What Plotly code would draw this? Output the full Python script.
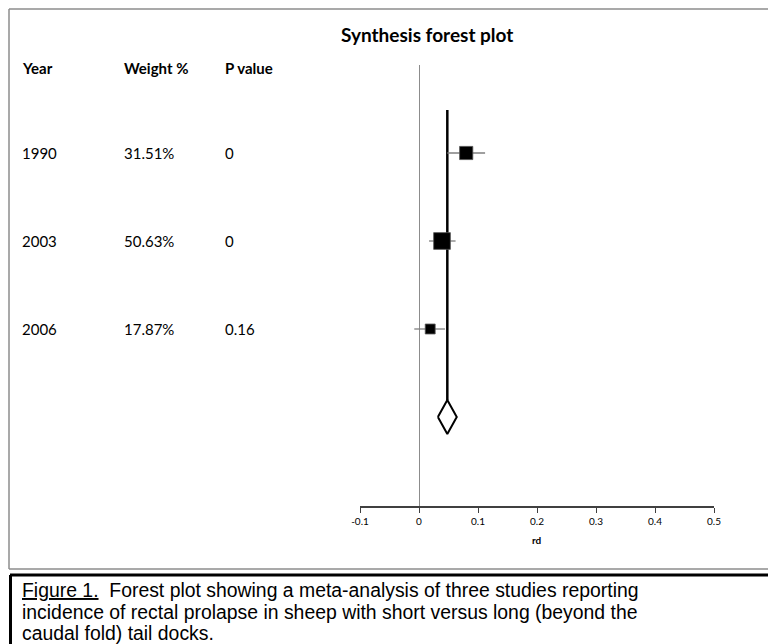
import plotly.graph_objects as go
import math

# ---------------- data ----------------
years = ["1990", "2003", "2006"]
weight_labels = ["31.51%", "50.63%", "17.87%"]
weight_values = [31.51, 50.63, 17.87]
p_values = ["0", "0", "0.16"]
rd = [0.080, 0.039, 0.019]
ci_low = [0.048, 0.017, -0.008]
ci_high = [0.112, 0.062, 0.044]
pooled = 0.048
pooled_low = 0.032
pooled_high = 0.064
x_ticks = [-0.1, 0, 0.1, 0.2, 0.3, 0.4, 0.5]
x_tick_labels = ["-0.1", "0", "0.1", "0.2", "0.3", "0.4", "0.5"]
caption_lines = [
    "<u>Figure 1.</u>  Forest plot showing a meta-analysis of three studies reporting",
    "incidence of rectal prolapse in sheep with short versus long (beyond the",
    "caudal fold) tail docks.",
]

# ---------------- layout geometry (page pixels) ----------------
OFF = 8                  # page body margin
W, H = 776 - OFF, 644 - OFF
L, XR = 360, 714         # plot area left / right edges (page px)
T, AX = 65, 506          # plot area top / x-axis line (page px)
PW = XR - L
PH = AX - T


def px(x):
    return (x - L) / PW


def py(y):
    return 1 - (y - T) / PH


rows = [1, 2, 3]
diamond_row = 4
ROW0, ROWSTEP = 153, 88  # page y of row 1 and spacing
y_top = (T - ROW0) / ROWSTEP + 1
y_bot = (AX - ROW0) / ROWSTEP + 1
line_top = (110 - ROW0) / ROWSTEP + 1
dh = 17 / ROWSTEP

fig = go.Figure()

fig.add_trace(go.Scatter(
    x=[pooled, pooled], y=[line_top, diamond_row - dh], mode="lines",
    line=dict(color="black", width=2.5), hoverinfo="skip", showlegend=False))

fig.add_trace(go.Scatter(
    x=rd, y=rows, mode="markers",
    marker=dict(symbol="square", color="black", opacity=1,
                size=[2.35 * math.sqrt(w) for w in weight_values],
                line=dict(color="#555555", width=0.8)),
    error_x=dict(type="data", symmetric=False,
                 array=[h - m for h, m in zip(ci_high, rd)],
                 arrayminus=[m - l for l, m in zip(ci_low, rd)],
                 color="#7f7f7f", thickness=1.3, width=0),
    hoverinfo="skip", showlegend=False))

fig.add_trace(go.Scatter(
    x=[pooled_low, pooled, pooled_high, pooled, pooled_low],
    y=[diamond_row, diamond_row - dh, diamond_row, diamond_row + dh, diamond_row],
    mode="lines", fill="toself", fillcolor="white",
    line=dict(color="black", width=2), hoverinfo="skip", showlegend=False))

annotations = []
annotations.append(dict(x=px(427), y=py(35), xref="paper", yref="paper",
                        text="<b>Synthesis forest plot</b>", showarrow=False,
                        font=dict(family="Lato", size=19, color="black"),
                        xanchor="center", yanchor="middle"))
for text, xx in [("Year", 22), ("Weight %", 124), ("P value", 225)]:
    annotations.append(dict(x=px(xx - 2), y=py(68), xref="paper", yref="paper",
                            text="<b>%s</b>" % text, showarrow=False,
                            font=dict(family="Lato", size=15, color="black"),
                            xanchor="left", yanchor="middle"))
for r, yr, wl, pv in zip(rows, years, weight_labels, p_values):
    for text, xx in [(yr, 22), (wl, 124), (pv, 225)]:
        annotations.append(dict(x=px(xx - 2), y=r, xref="paper", yref="y",
                                text=text, showarrow=False,
                                font=dict(family="Lato", size=15, color="black"),
                                xanchor="left", yanchor="middle"))
for i, line in enumerate(caption_lines):
    annotations.append(dict(
        x=px(20), y=py(590 + 21.5 * i), xref="paper", yref="paper", align="left",
        text=line, showarrow=False, xanchor="left", yanchor="middle",
        font=dict(family="Liberation Sans", size=19.4, color="black")))
annotations.append(dict(x=px(537), y=py(540), xref="paper", yref="paper",
                        text="<b>rd</b>", showarrow=False,
                        font=dict(family="Lato", size=10, color="black"),
                        xanchor="center", yanchor="middle"))


def hline(x0, x1, y, color, width):
    return dict(type="line", xref="paper", yref="paper",
                x0=px(x0), x1=px(x1), y0=py(y), y1=py(y),
                line=dict(color=color, width=width))


def vline(x, y0, y1, color, width):
    return dict(type="line", xref="paper", yref="paper",
                x0=px(x), x1=px(x), y0=py(y0), y1=py(y1),
                line=dict(color=color, width=width))


BORDER = "#8c8c8c"
shapes = [
    # chart border
    hline(9, 771, 9, BORDER, 1.5),
    hline(9, 771, 569, BORDER, 1.5),
    vline(9, 9, 569, BORDER, 1.5),
    vline(771, 9, 569, BORDER, 1.5),
    # caption box
    hline(10, 776, 575, "black", 3),
    vline(10.5, 575, 644, "black", 3),
]

fig.update_layout(
    width=W, height=H,
    margin=dict(l=L - OFF, r=776 - XR, t=T - OFF, b=644 - AX),
    paper_bgcolor="white", plot_bgcolor="white",
    annotations=annotations, shapes=shapes,
    xaxis=dict(range=[-0.1, 0.5], tickvals=x_ticks, ticktext=x_tick_labels,
               showgrid=False, zeroline=True, zerolinecolor="#8c8c8c", zerolinewidth=1,
               showline=True, linecolor="#404040", linewidth=1.5,
               ticks="outside", ticklen=5, tickcolor="#404040",
               tickfont=dict(family="Lato", size=10, color="black")),
    yaxis=dict(range=[y_bot, y_top], showgrid=False, zeroline=False, showline=False,
               showticklabels=False, ticks=""),
)

fig.write_html("out.html")
